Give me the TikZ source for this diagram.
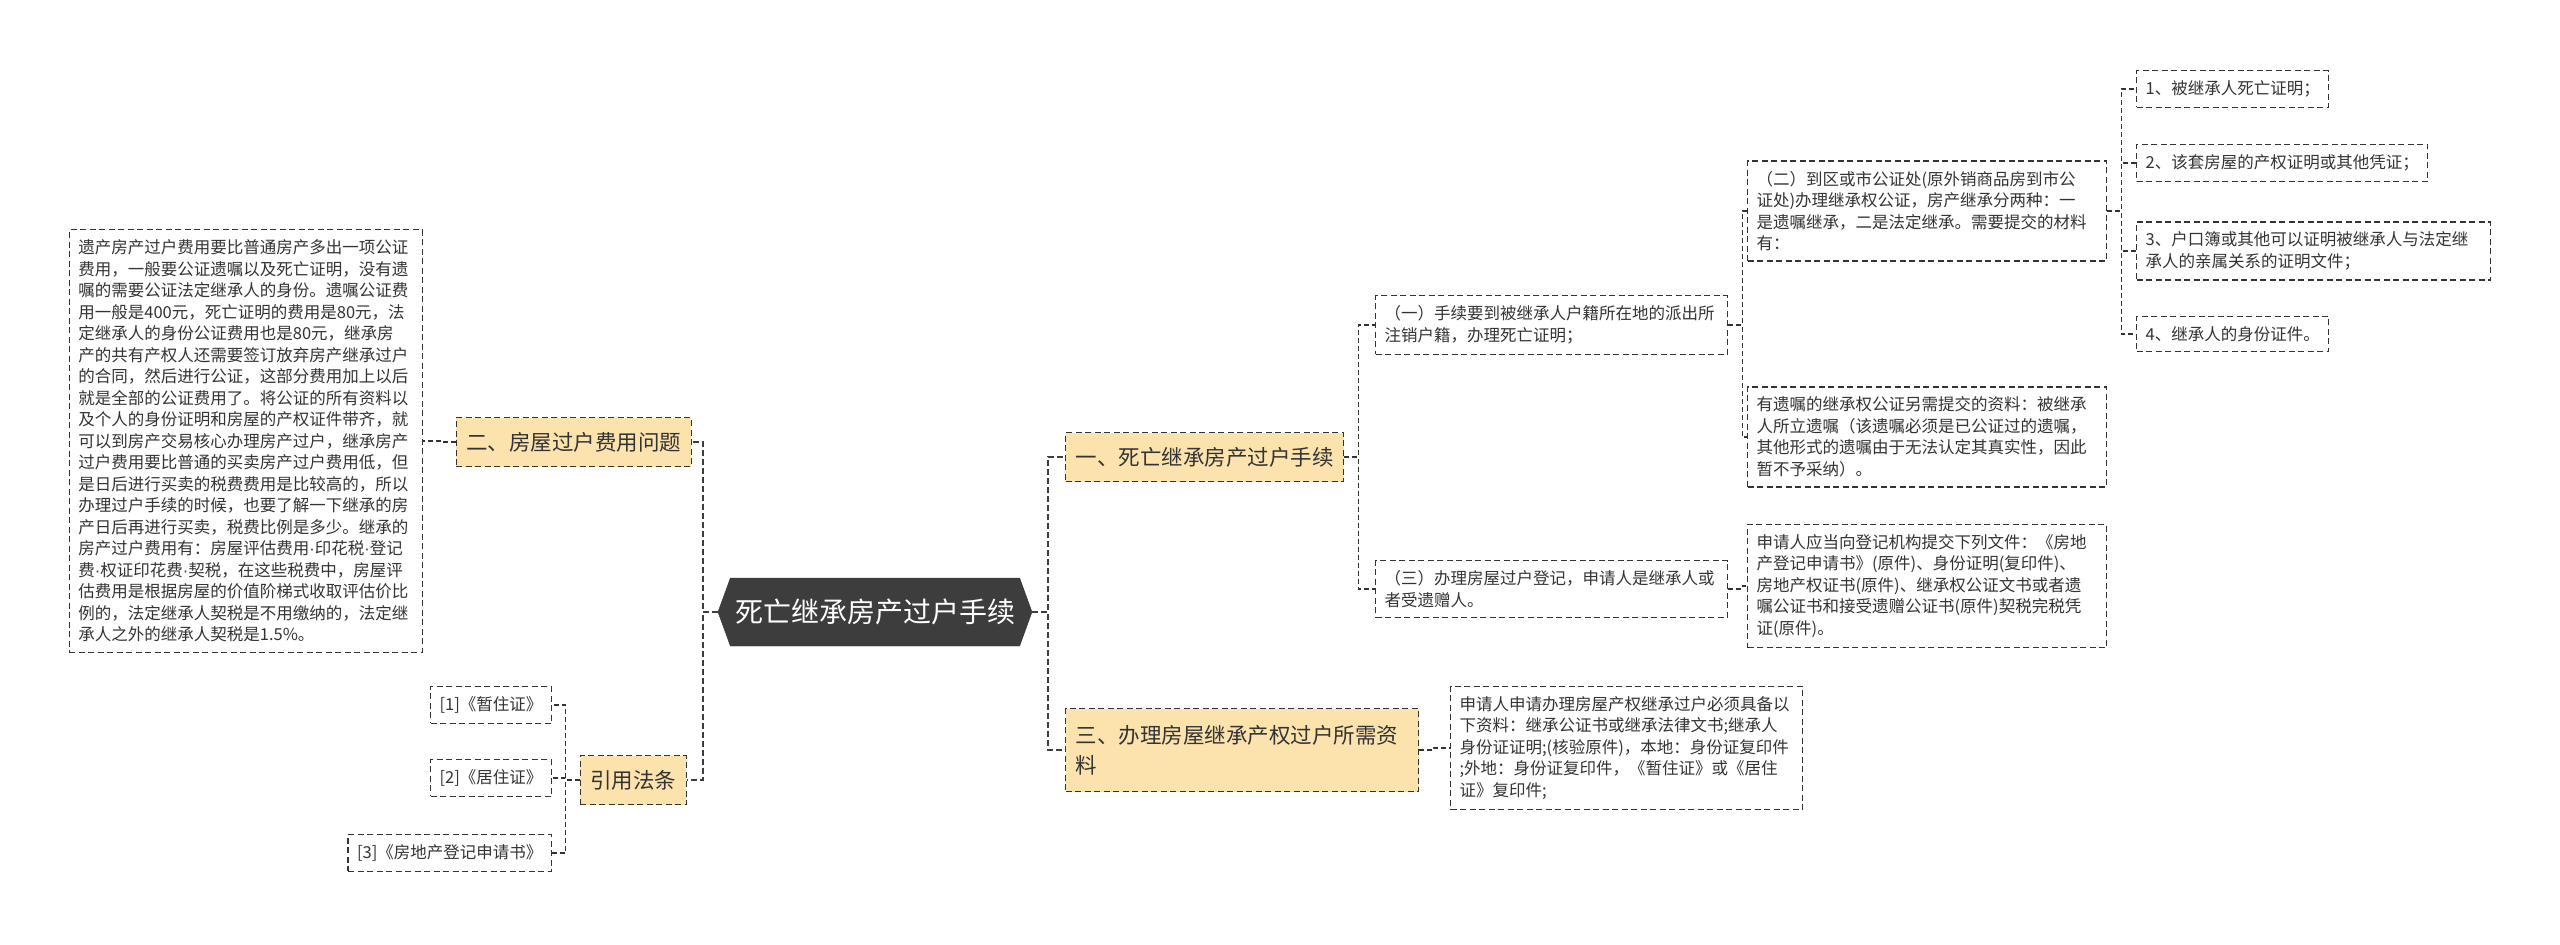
\documentclass[tikz,border=0pt]{standalone}
\usepackage{fontspec}
\setmainfont{Noto Sans CJK SC}
\newfontfamily\latinfont{Liberation Sans}
\usetikzlibrary{positioning,calc,shapes.symbols}
\definecolor{Ink}{HTML}{333333}
\definecolor{Coal}{HTML}{3D3D3D}
\definecolor{Sand}{HTML}{FCE3AE}
\newcommand{\mdot}{{\latinfont ·}}
\tikzset{
 box/.style={draw=Ink,line width=1.2pt,dash pattern=on 6pt off 3.5pt,align=left,text=Ink,font=\fontsize{16.5}{21.5}\selectfont,inner xsep=9pt,inner ysep=10pt},
 topic/.style={box,fill=Sand,font=\fontsize{21.5}{30}\selectfont,inner xsep=10pt,minimum height=49pt},
 hub/.style={signal,signal to=west and east,signal pointer angle=140,fill=Coal,draw=Coal!80!black,text=white,font=\fontsize{28}{32}\selectfont,minimum width=314pt,minimum height=68pt,inner sep=4pt},
 link/.style={draw=Ink,line width=1.3pt,dash pattern=on 5pt off 3pt},
 trunk/.style={link,line width=2.2pt,dash pattern=on 6pt off 3pt,draw=Coal}
}
\begin{document}
\begin{tikzpicture}[x=1pt,y=-1pt]
\useasboundingbox (0,0) rectangle (2560,945);
\node[hub] (root) at (875,612) {死亡继承房产过户手续};
% right side
\node[topic,anchor=west] (b1) at (1065,457) {一、死亡继承房产过户手续};
\node[topic,anchor=west,text width=333pt,minimum height=83pt] (b3) at (1065,750) {三、办理房屋继承产权过户所需资\\料};
\node[box,anchor=west,text width=334pt] (s1) at (1375,325) {（一）手续要到被继承人户籍所在地的派出所\\注销户籍，办理死亡证明；};
\node[box,anchor=west,text width=334pt] (s3) at (1375,589) {（三）办理房屋过户登记，申请人是继承人或\\者受遗赠人。};
\node[box,anchor=west,text width=341pt] (s2) at (1747,211) {（二）到区或市公证处(原外销商品房到市公\\证处)办理继承权公证，房产继承分两种：一\\是遗嘱继承，二是法定继承。需要提交的材料\\有：};
\node[box,anchor=west,text width=341pt] (will) at (1747,437) {有遗嘱的继承权公证另需提交的资料：被继承\\人所立遗嘱（该遗嘱必须是已公证过的遗嘱，\\其他形式的遗嘱由于无法认定其真实性，因此\\暂不予采纳）。};
\node[box,anchor=west,text width=341pt] (reg) at (1747,586) {申请人应当向登记机构提交下列文件：《房地\\产登记申请书》(原件)、身份证明(复印件)、\\房地产权证书(原件)、继承权公证文书或者遗\\嘱公证书和接受遗赠公证书(原件)契税完税凭\\证(原件)。};
\node[box,anchor=west,text width=334pt] (doc) at (1450,748) {申请人申请办理房屋产权继承过户必须具备以\\下资料：继承公证书或继承法律文书;继承人\\身份证证明;(核验原件)，本地：身份证复印件\\;外地：身份证复印件，《暂住证》或《居住\\证》复印件;};
\node[box,anchor=west] (i1) at (2136,89) {1、被继承人死亡证明；};
\node[box,anchor=west] (i2) at (2136,163) {2、该套房屋的产权证明或其他凭证；};
\node[box,anchor=west,text width=336pt] (i3) at (2136,251) {3、户口簿或其他可以证明被继承人与法定继\\承人的亲属关系的证明文件；};
\node[box,anchor=west] (i4) at (2136,334) {4、继承人的身份证件。};
% left side
\node[topic,anchor=east] (b2) at (692,442) {二、房屋过户费用问题};
\node[topic,anchor=east] (law) at (687,780) {引用法条};
\node[box,anchor=east,text width=335pt] (fee) at (423,441) {遗产房产过户费用要比普通房产多出一项公证\\费用，一般要公证遗嘱以及死亡证明，没有遗\\嘱的需要公证法定继承人的身份。遗嘱公证费\\用一般是400元，死亡证明的费用是80元，法\\定继承人的身份公证费用也是80元，继承房\\产的共有产权人还需要签订放弃房产继承过户\\的合同，然后进行公证，这部分费用加上以后\\就是全部的公证费用了。将公证的所有资料以\\及个人的身份证明和房屋的产权证件带齐，就\\可以到房产交易核心办理房产过户，继承房产\\过户费用要比普通的买卖房产过户费用低，但\\是日后进行买卖的税费费用是比较高的，所以\\办理过户手续的时候，也要了解一下继承的房\\产日后再进行买卖，税费比例是多少。继承的\\房产过户费用有：房屋评估费用\mdot 印花税\mdot 登记\\费\mdot 权证印花费\mdot 契税，在这些税费中，房屋评\\估费用是根据房屋的价值阶梯式收取评估价比\\例的，法定继承人契税是不用缴纳的，法定继\\承人之外的继承人契税是1.5\%。};
\node[box,anchor=east] (ref1) at (552,705) {[1]《暂住证》};
\node[box,anchor=east] (ref2) at (552,778) {[2]《居住证》};
\node[box,anchor=east] (ref3) at (552,853) {[3]《房地产登记申请书》};
% connectors
\foreach \c in {b1,b3} \draw[trunk] (root.east) -- ++(16,0) |- (\c.west);
\foreach \c in {b2,law} \draw[trunk] (root.west) -- ++(-15,0) |- (\c.east);
\foreach \p/\c in {b1/s1,b1/s3,s1/s2,s1/will,s3/reg,s2/i1,s2/i2,s2/i3,s2/i4,b3/doc} \draw[link] (\p.east) -- ++(14,0) |- (\c.west);
\foreach \p/\c in {b2/fee,law/ref1,law/ref2,law/ref3} \draw[link] (\p.west) -- ++(-14,0) |- (\c.east);
\end{tikzpicture}
\end{document}
